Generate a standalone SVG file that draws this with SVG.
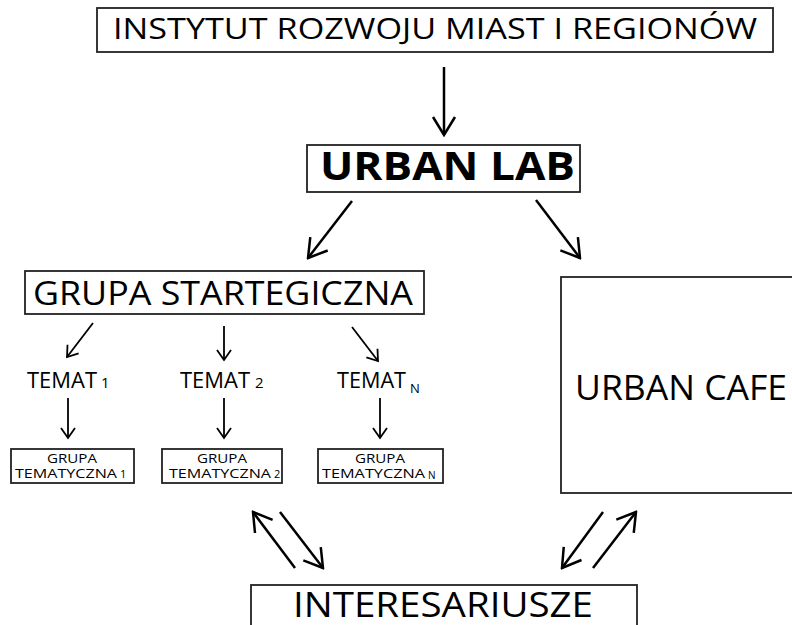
<svg xmlns="http://www.w3.org/2000/svg" width="792" height="625" viewBox="0 0 792 625">
<style>
.box{fill:#fff;stroke:#222;stroke-width:1.8}
.t{font-family:"Open Sans","Lato","Liberation Sans",sans-serif;fill:#000}
.c{stroke:#000;stroke-width:2.5;fill:none}
.cs{stroke:#000;stroke-width:1.8;fill:none}
</style>
<defs>
<marker id="ah" viewBox="-2 -2 22 26" refX="18" refY="11" markerWidth="22" markerHeight="26" markerUnits="userSpaceOnUse" orient="auto">
<path d="M0,0 L18,11 L0,22" fill="none" stroke="#000" stroke-width="2.5"/>
</marker>
<marker id="as" viewBox="-2 -2 14 18" refX="10" refY="7" markerWidth="14" markerHeight="18" markerUnits="userSpaceOnUse" orient="auto">
<path d="M0,0 L10,7 L0,14" fill="none" stroke="#000" stroke-width="1.8"/>
</marker>
</defs>
<rect width="792" height="625" fill="#fff"/>
<g id="instytut">
<rect class="box" x="97" y="8" width="676" height="44"/>
<text class="t" x="113" y="39" font-size="29" textLength="644" lengthAdjust="spacingAndGlyphs">INSTYTUT ROZWOJU MIAST I REGIONÓW</text>
</g>
<g id="urbanlab">
<rect class="box" x="307" y="145" width="273" height="47"/>
<text class="t" x="320" y="180" font-size="39" font-weight="bold" textLength="255" lengthAdjust="spacingAndGlyphs">URBAN LAB</text>
</g>
<g id="grupa-strategiczna">
<rect class="box" x="25" y="271" width="399" height="43"/>
<text class="t" x="33" y="305" font-size="33" textLength="380" lengthAdjust="spacingAndGlyphs">GRUPA STARTEGICZNA</text>
</g>
<g id="urbancafe">
<rect class="box" x="561" y="277" width="240" height="216"/>
<text class="t" x="575" y="400" font-size="35" textLength="212" lengthAdjust="spacingAndGlyphs">URBAN CAFE</text>
</g>
<g id="temat1">
<text class="t" x="27" y="388" font-size="21" textLength="70" lengthAdjust="spacingAndGlyphs">TEMAT</text>
<text class="t" x="101" y="388" font-size="15">1</text>
</g>
<g id="temat2">
<text class="t" x="180" y="388" font-size="21" textLength="70" lengthAdjust="spacingAndGlyphs">TEMAT</text>
<text class="t" x="255" y="388" font-size="15">2</text>
</g>
<g id="tematN">
<text class="t" x="337" y="388" font-size="21" textLength="69" lengthAdjust="spacingAndGlyphs">TEMAT</text>
<text class="t" x="410" y="393" font-size="13">N</text>
</g>
<g id="grupa-tematyczna1">
<rect class="box" x="11" y="449" width="123" height="34"/>
<text class="t" x="72" y="463" font-size="13.5" text-anchor="middle" textLength="50" lengthAdjust="spacingAndGlyphs">GRUPA</text>
<text class="t" x="15" y="478" font-size="13.5" textLength="102" lengthAdjust="spacingAndGlyphs">TEMATYCZNA</text>
<text class="t" x="120" y="478" font-size="11">1</text>
</g>
<g id="grupa-tematyczna2">
<rect class="box" x="162" y="449" width="120" height="34"/>
<text class="t" x="222" y="463" font-size="13.5" text-anchor="middle" textLength="50" lengthAdjust="spacingAndGlyphs">GRUPA</text>
<text class="t" x="169" y="478" font-size="13.5" textLength="102" lengthAdjust="spacingAndGlyphs">TEMATYCZNA</text>
<text class="t" x="274" y="478" font-size="11">2</text>
</g>
<g id="grupa-tematycznaN">
<rect class="box" x="318" y="449" width="125" height="34"/>
<text class="t" x="380" y="463" font-size="13.5" text-anchor="middle" textLength="50" lengthAdjust="spacingAndGlyphs">GRUPA</text>
<text class="t" x="322" y="478" font-size="13.5" textLength="103" lengthAdjust="spacingAndGlyphs">TEMATYCZNA</text>
<text class="t" x="428" y="479" font-size="10">N</text>
</g>
<g id="interesariusze">
<rect class="box" x="251" y="585" width="386" height="50"/>
<text class="t" x="293" y="617" font-size="35" textLength="300" lengthAdjust="spacingAndGlyphs">INTERESARIUSZE</text>
</g>
<g id="connectors">
<line class="c" x1="444" y1="67" x2="444" y2="135" marker-end="url(#ah)"/>
<line class="c" x1="352" y1="201" x2="308" y2="258" marker-end="url(#ah)"/>
<line class="c" x1="536" y1="200" x2="580" y2="258" marker-end="url(#ah)"/>
<line class="cs" x1="93" y1="323" x2="67" y2="357" marker-end="url(#as)"/>
<line class="cs" x1="224" y1="326" x2="224" y2="360" marker-end="url(#as)"/>
<line class="cs" x1="352" y1="327" x2="378" y2="361" marker-end="url(#as)"/>
<line class="cs" x1="68" y1="398" x2="68" y2="438" marker-end="url(#as)"/>
<line class="cs" x1="224" y1="398" x2="224" y2="438" marker-end="url(#as)"/>
<line class="cs" x1="380" y1="398" x2="380" y2="438" marker-end="url(#as)"/>
<line class="c" x1="295" y1="568" x2="253" y2="512" marker-end="url(#ah)"/>
<line class="c" x1="280" y1="512" x2="323" y2="568" marker-end="url(#ah)"/>
<line class="c" x1="603" y1="512" x2="562" y2="568" marker-end="url(#ah)"/>
<line class="c" x1="593" y1="568" x2="636" y2="512" marker-end="url(#ah)"/>
</g>
</svg>
